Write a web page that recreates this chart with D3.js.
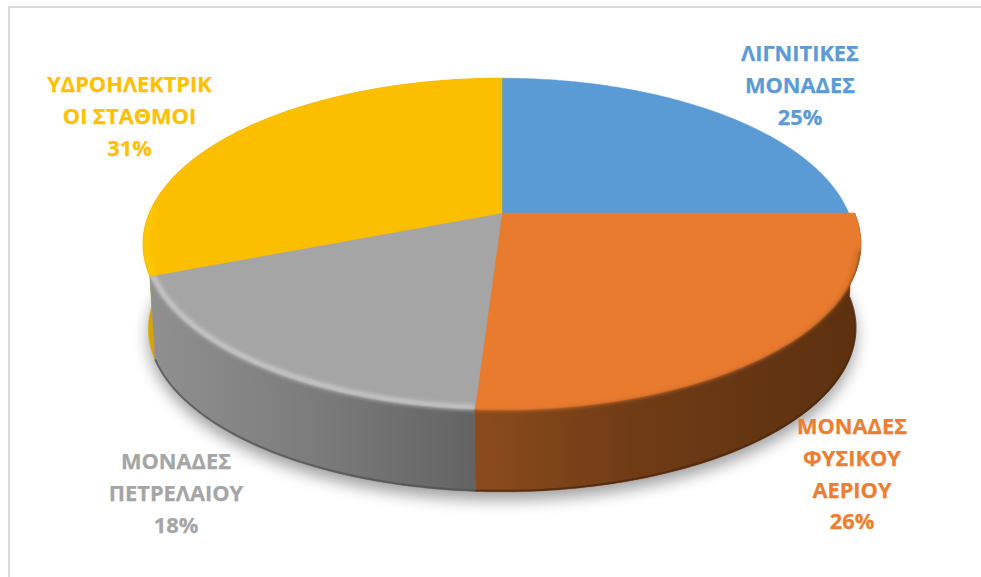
<!DOCTYPE html>
<html>
<head>
<meta charset="utf-8">
<script src="https://cdn.jsdelivr.net/npm/d3@7/dist/d3.min.js"></script>
<style>
html,body{margin:0;padding:0;background:#fff;overflow:hidden}
text{font-family:"Open Sans","Noto Sans",sans-serif;font-weight:700;font-size:21.8px;text-anchor:middle;stroke-width:.25px}
</style>
</head>
<body>
<svg id="chart" width="981" height="577"></svg>
<script>
// Share of installed power by plant type
const categories = ["lignite", "gas", "oil", "hydro"];
const shares = [25, 26, 18, 31];
const labelLines = [
  ["ΛΙΓΝΙΤΙΚΕΣ", "ΜΟΝΑΔΕΣ", "25%"],
  ["ΜΟΝΑΔΕΣ", "ΦΥΣΙΚΟΥ", "ΑΕΡΙΟΥ", "26%"],
  ["ΜΟΝΑΔΕΣ", "ΠΕΤΡΕΛΑΙΟΥ", "18%"],
  ["ΥΔΡΟΗΛΕΚΤΡΙΚ", "ΟΙ ΣΤΑΘΜΟΙ", "31%"]
];

// Styling, per slice
const topColors = ["#5b9bd5", "#e97b2f", "#a5a5a5", "#fcbf00"];
const labelColors = ["#5b9bd5", "#ed7d31", "#a5a5a5", "#ffc000"];
const wallStops = [
  [[0, "#3b6a94"], [1, "#3b6a94"]],
  [[0, "#8c4b1e"], [0.4, "#703c16"], [1, "#5c3010"]],
  [[0, "#909090"], [0.5, "#7c7c7c"], [1, "#636363"]],
  [[0, "#d9a300"], [1, "#d9a300"]]
];
const rimLight = ["#5b9bd5", "#e97b2f", "#cfcfcf", "#ffd000"];
const faceReach = [0.983, 1, 1, 1];
const labelAnchors = [[800, 61], [852, 434], [176, 469], [129.5, 92]];
const lineStep = 31.8;

// Perspective camera for the disc: k sets how strongly the near side grows
const k = 0.187, depth = 85, baseScale = 0.985;
const xScale = d3.scaleLinear().domain([-1, 1]).range([502 - 352.6, 502 + 352.6]);
const yScale = d3.scaleLinear().domain([-1, 1]).range([213 - 160, 213 + 160]);
const project = (a, r, rx) => {
  const u = r * Math.sin(a), v = -r * Math.cos(a), w = 1 - k * v;
  return [xScale(rx * u / w), yScale(v / w)];
};
const top3d = a => project(a, 1, 1);
const base3d = a => {
  const u = Math.sin(a), v = -Math.cos(a), w = 1 - k * v;
  return [xScale(baseScale * u / w), yScale(baseScale * v / w) + depth];
};

const arcs = d3.pie().sort(null).value(d => d)(shares);
const sweep = (a0, a1) => d3.range(0, 121).map(i => a0 + (a1 - a0) * i / 120);
const line = d3.line();

const svg = d3.select("#chart");
const defs = svg.append("defs");
const blur = (id, sd) => defs.append("filter").attr("id", id)
  .attr("filterUnits", "userSpaceOnUse").attr("x", 0).attr("y", 0).attr("width", 981).attr("height", 577)
  .append("feGaussianBlur").attr("stdDeviation", sd);
blur("shadowBlur", 8);
blur("softEdge", 2.4);
blur("softGlow", 2.2);

// Chart frame: only the top and left edges fall inside the view
svg.append("path").attr("d", "M981,7H9V577").attr("fill", "none")
  .attr("stroke", "#d9d9d9").attr("stroke-width", 2);

// Soft contact shadow beneath the base
const all = sweep(0, 2 * Math.PI);
svg.append("path")
  .attr("d", line(all.map(a => { const p = base3d(a); return [p[0], p[1] + 8]; })) + "Z")
  .attr("fill", "#000").attr("opacity", 0.38).attr("filter", "url(#shadowBlur)");

// Wall gradients run across the visible width of each slice
arcs.forEach((d, i) => {
  const xs = sweep(d.startAngle, d.endAngle).map(a => top3d(a)[0]);
  const g = defs.append("linearGradient").attr("id", "wall" + i)
    .attr("gradientUnits", "userSpaceOnUse")
    .attr("x1", d3.min(xs)).attr("x2", d3.max(xs)).attr("y1", 0).attr("y2", 0);
  wallStops[i].forEach(s => g.append("stop").attr("offset", s[0]).attr("stop-color", s[1]));
});

const wallPath = d => {
  const as = sweep(d.startAngle, d.endAngle);
  return line(as.map(top3d).concat(as.slice().reverse().map(base3d))) + "Z";
};
const facePath = (d, i) => line([[502, 213]].concat(
  sweep(d.startAngle, d.endAngle).map(a => project(a, 1, faceReach[i])))) + "Z";

// Outer walls, back to front; the lignite slice sits wholly behind the top face
[3, 1, 2].forEach(i => {
  svg.append("path").attr("d", wallPath(arcs[i]))
    .attr("fill", `url(#wall${i})`).attr("stroke", `url(#wall${i})`).attr("stroke-width", 0.5);
});

// Darker lip along the very bottom of the wall
[1, 2].forEach(i => {
  const as = sweep(arcs[i].startAngle, arcs[i].endAngle);
  svg.append("path").attr("d", line(as.map(a => { const p = base3d(a); return [p[0], p[1] - 1]; })))
    .attr("fill", "none")
    .attr("stroke", i === 1 ? "#4a250b" : "#505050").attr("stroke-width", 2).attr("opacity", 0.7);
});

// Top faces
arcs.forEach((d, i) => {
  svg.append("path").attr("d", facePath(d, i)).attr("fill", topColors[i])
    .attr("stroke", topColors[i]).attr("stroke-width", 0.5);
});

// Bevel on the front rim: a blurred band melting into the wall, and a lit band just inside it.
// Each bevel stays inside the outline of its own slice.
[1, 2].forEach(i => {
  const clip = defs.append("clipPath").attr("id", "sliceClip" + i);
  clip.append("path").attr("d", wallPath(arcs[i]));
  clip.append("path").attr("d", facePath(arcs[i], i));
  const bevel = svg.append("g").attr("clip-path", `url(#sliceClip${i})`);
  const a0 = i === 1 ? arcs[i].startAngle + 0.2 : arcs[i].startAngle;
  const as = sweep(a0, arcs[i].endAngle);
  bevel.append("path").attr("d", line(as.map(a => {
      const p = top3d(a); return [p[0], p[1] + 4];
    }))).attr("fill", "none")
    .attr("stroke", `url(#wall${i})`).attr("stroke-width", 7).attr("filter", "url(#softEdge)");
  bevel.append("path").attr("d", line(as.map(a => project(a, 0.992, 1)))).attr("fill", "none")
    .attr("stroke", rimLight[i]).attr("stroke-width", 4.5).attr("filter", "url(#softGlow)");
});

// Slim highlight on the exposed left edge of the hydro slice
{
  const as = sweep(arcs[3].startAngle, arcs[3].startAngle + 0.4);
  svg.append("path").attr("d", line(as.map(a => project(a, 0.99, 1)))).attr("fill", "none")
    .attr("stroke", rimLight[3]).attr("stroke-width", 3).attr("filter", "url(#softGlow)");
}

// Data labels
categories.forEach((c, i) => {
  const t = svg.append("text").attr("fill", labelColors[i]).attr("stroke", labelColors[i]);
  labelLines[i].forEach((s, j) => {
    t.append("tspan").attr("x", labelAnchors[i][0]).attr("y", labelAnchors[i][1] + j * lineStep).text(s);
  });
});
</script>
</body>
</html>
